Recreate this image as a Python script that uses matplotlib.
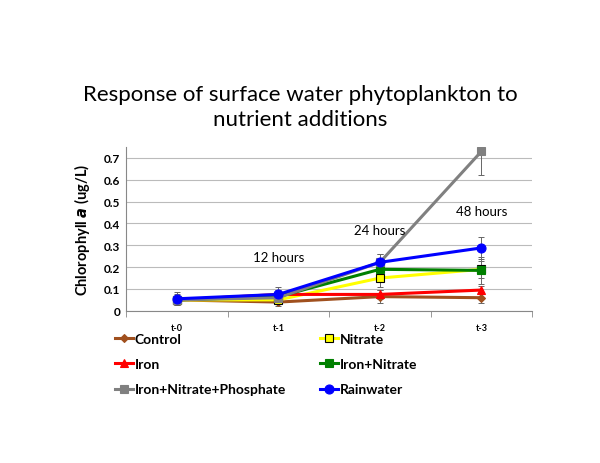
import matplotlib.pyplot as plt
import numpy as np

plt.rcParams['font.family'] = ['Lato', 'DejaVu Sans']

times = ['t-0', 't-1', 't-2', 't-3']
series = ['Control', 'Nitrate', 'Iron', 'Iron+Nitrate',
          'Iron+Nitrate+Phosphate', 'Rainwater']
control = [0.050, 0.040, 0.065, 0.060]
nitrate = [0.050, 0.050, 0.150, 0.190]
iron = [0.050, 0.075, 0.075, 0.095]
iron_nitrate = [0.050, 0.065, 0.190, 0.185]
iron_nitrate_phos = [0.050, 0.060, 0.222, 0.730]
rainwater = [0.055, 0.075, 0.222, 0.288]

control_err = [0.020, 0.020, 0.030, 0.025]
nitrate_err = [0.020, 0.020, 0.040, 0.040]
iron_err = [0.020, 0.020, 0.020, 0.020]
iron_nitrate_err = [0.020, 0.020, 0.030, 0.060]
iron_nitrate_phos_err = [0.025, 0.030, 0.040, 0.110]
rainwater_err = [0.030, 0.035, 0.040, 0.052]

hour_labels = ['12 hours', '24 hours', '48 hours']
hour_x = [1.0, 2.0, 3.0]
hour_y = [0.245, 0.37, 0.455]

fig = plt.figure(figsize=(6, 4.64), dpi=100)
ax = fig.add_axes([0.21, 0.328, 0.677, 0.353])

x = np.arange(len(times))
styles = [
    (control, control_err, '#A0501E', 'D', '#A0501E', 4),
    (nitrate, nitrate_err, '#FFFF00', 's', 'black', 6),
    (iron, iron_err, '#FF0000', '^', '#FF0000', 6),
    (iron_nitrate, iron_nitrate_err, '#008000', 's', '#008000', 6),
    (iron_nitrate_phos, iron_nitrate_phos_err, '#808080', 's', '#808080', 6),
    (rainwater, rainwater_err, '#0000FF', 'o', '#0000FF', 6.5),
]
for (vals, err, col, mk, ec, ms), name in zip(styles, series):
    ax.errorbar(x, vals, yerr=err, fmt='none', ecolor='#666666',
                elinewidth=0.7, capsize=2, capthick=0.7, zorder=2)
    ax.plot(x, vals, color=col, lw=2.2, marker=mk, markersize=ms,
            markerfacecolor=col, markeredgecolor=ec, markeredgewidth=0.8,
            label=name, zorder=3)

ax.set_xlim(-0.5, 3.5)
ax.set_ylim(0, 0.75)
ax.set_yticks([0, 0.1, 0.2, 0.3, 0.4, 0.5, 0.6, 0.7])
ax.set_yticklabels(['0', '0.1', '0.2', '0.3', '0.4', '0.5', '0.6', '0.7'],
                   fontsize=8.5, fontweight='bold')
ax.set_xticks(x)
ax.set_xticklabels(times, fontsize=6.5, fontweight='bold')
ax.tick_params(axis='x', length=0, pad=9)
ax.set_xticks(np.arange(-0.5, 4, 1), minor=True)
ax.tick_params(axis='x', which='minor', length=4, color='#888888')
ax.tick_params(axis='y', length=0, pad=4)
ax.grid(axis='y', color='#BBBBBB', lw=0.8)
ax.set_axisbelow(True)
for s in ['top', 'right']:
    ax.spines[s].set_visible(False)
ax.spines['left'].set_color('#888888')
ax.spines['bottom'].set_color('#888888')

ax.set_ylabel('Chlorophyll $\\mathbfit{a}$ (ug/L)', fontsize=10.5,
              fontweight='bold', labelpad=9)

for lbl, hx, hy in zip(hour_labels, hour_x, hour_y):
    ax.text(hx, hy, lbl, fontsize=9.5, ha='center', va='center')

fig.text(0.5, 0.768, 'Response of surface water phytoplankton to\nnutrient additions',
         fontsize=16, ha='center', va='center', linespacing=1.3)

handles, labels = ax.get_legend_handles_labels()
order = [0, 2, 4, 1, 3, 5]
fig.legend([handles[i] for i in order], [labels[i] for i in order],
           loc='upper left', bbox_to_anchor=(0.182, 0.292),
           ncol=2, frameon=False, prop={'weight': 'bold', 'size': 10},
           handlelength=1.3, handletextpad=0.15, columnspacing=2.4,
           labelspacing=0.95, borderaxespad=0)

fig.savefig('out.png', dpi=100)
